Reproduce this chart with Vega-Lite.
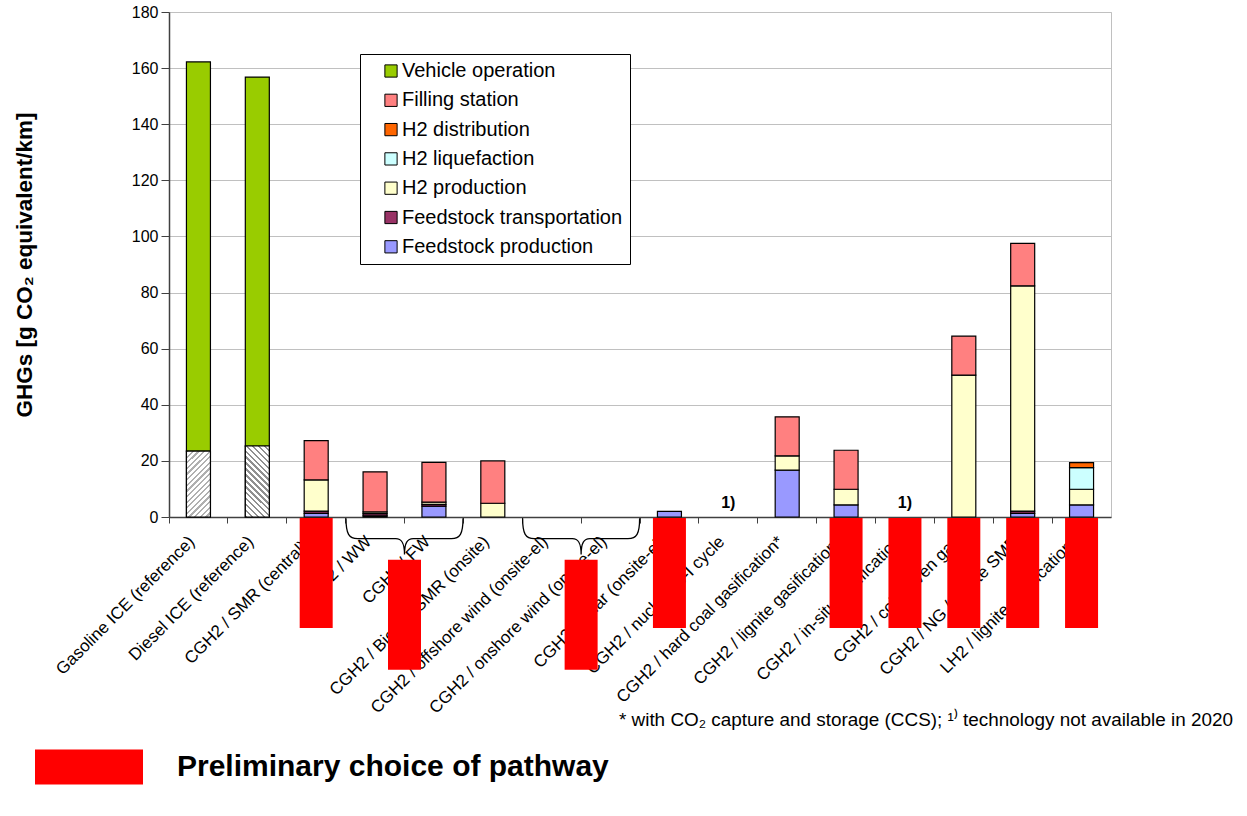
{
  "$schema": "https://vega.github.io/schema/vega-lite/v6.json",
  "width": 942,
  "height": 505,
  "autosize": {"type": "none"},
  "padding": {"left": 169, "top": 12, "right": 136, "bottom": 299},
  "background": "white",
  "config": {
    "font": "Liberation Sans",
    "view": {"stroke": "#c0c0c0"}
  },
  "title": {
    "text": "* with CO₂ capture and storage (CCS); ¹⁾ technology not available in 2020",
    "orient": "bottom",
    "anchor": "end",
    "fontSize": 18.9,
    "fontWeight": "normal",
    "color": "black",
    "dx": 122,
    "dy": -82,
    "offset": 8
  },
  "datasets": {
    "components": [
      {"component": "Fuel supply (well-to-tank)", "stackRank": 0},
      {"component": "Feedstock production", "stackRank": 1},
      {"component": "Feedstock transportation", "stackRank": 2},
      {"component": "H2 production", "stackRank": 3},
      {"component": "H2 liquefaction", "stackRank": 4},
      {"component": "H2 distribution", "stackRank": 5},
      {"component": "Filling station", "stackRank": 6},
      {"component": "Vehicle operation", "stackRank": 7}
    ]
  },
  "data": {
    "values": [
      {"pathway": "Gasoline ICE (reference)", "component": "Fuel supply (well-to-tank)", "value": 23.5},
      {"pathway": "Gasoline ICE (reference)", "component": "Vehicle operation", "value": 138.7},
      {"pathway": "Diesel ICE (reference)", "component": "Fuel supply (well-to-tank)", "value": 25.3},
      {"pathway": "Diesel ICE (reference)", "component": "Vehicle operation", "value": 131.5},
      {"pathway": "CGH2 / SMR (central)*", "component": "Feedstock production", "value": 1.3},
      {"pathway": "CGH2 / SMR (central)*", "component": "Feedstock transportation", "value": 0.8},
      {"pathway": "CGH2 / SMR (central)*", "component": "H2 production", "value": 11.1},
      {"pathway": "CGH2 / SMR (central)*", "component": "Filling station", "value": 14.0},
      {"pathway": "CGH2 / WW", "component": "Feedstock production", "value": 0.4},
      {"pathway": "CGH2 / WW", "component": "Feedstock transportation", "value": 0.8},
      {"pathway": "CGH2 / WW", "component": "H2 production", "value": 0.6},
      {"pathway": "CGH2 / WW", "component": "Filling station", "value": 14.3},
      {"pathway": "CGH2 / FW", "component": "Feedstock production", "value": 3.9},
      {"pathway": "CGH2 / FW", "component": "Feedstock transportation", "value": 0.6},
      {"pathway": "CGH2 / FW", "component": "H2 production", "value": 0.8},
      {"pathway": "CGH2 / FW", "component": "Filling station", "value": 14.2},
      {"pathway": "CGH2 / Biogas SMR (onsite)", "component": "H2 production", "value": 4.9},
      {"pathway": "CGH2 / Biogas SMR (onsite)", "component": "Filling station", "value": 15.1},
      {"pathway": "CGH2 / solar (onsite-el)", "component": "Feedstock production", "value": 2.0},
      {"pathway": "CGH2 / hard coal gasification*", "component": "Feedstock production", "value": 16.7},
      {"pathway": "CGH2 / hard coal gasification*", "component": "H2 production", "value": 5.1},
      {"pathway": "CGH2 / hard coal gasification*", "component": "Filling station", "value": 13.9},
      {"pathway": "CGH2 / lignite gasification*", "component": "Feedstock production", "value": 4.3},
      {"pathway": "CGH2 / lignite gasification*", "component": "H2 production", "value": 5.6},
      {"pathway": "CGH2 / lignite gasification*", "component": "Filling station", "value": 13.9},
      {"pathway": "CGH2 / coke oven gas", "component": "H2 production", "value": 50.6},
      {"pathway": "CGH2 / coke oven gas", "component": "Filling station", "value": 13.9},
      {"pathway": "CGH2 / NG / onsite SMR", "component": "Feedstock production", "value": 1.3},
      {"pathway": "CGH2 / NG / onsite SMR", "component": "Feedstock transportation", "value": 0.8},
      {"pathway": "CGH2 / NG / onsite SMR", "component": "H2 production", "value": 80.3},
      {"pathway": "CGH2 / NG / onsite SMR", "component": "Filling station", "value": 15.1},
      {"pathway": "LH2 / lignite gasification*", "component": "Feedstock production", "value": 4.3},
      {"pathway": "LH2 / lignite gasification*", "component": "H2 production", "value": 5.6},
      {"pathway": "LH2 / lignite gasification*", "component": "H2 liquefaction", "value": 7.7},
      {"pathway": "LH2 / lignite gasification*", "component": "H2 distribution", "value": 1.8}
    ]
  },
  "layer": [
    {
      "transform": [{"lookup": "component", "from": {"data": {"name": "components"}, "key": "component", "fields": ["stackRank"]}}],
      "mark": {"type": "bar", "width": 24, "stroke": "black", "strokeWidth": 1.2},
      "encoding": {
        "x": {
          "field": "pathway", "type": "nominal",
          "scale": {"domain": ["Gasoline ICE (reference)", "Diesel ICE (reference)", "CGH2 / SMR (central)*", "CGH2 / WW", "CGH2 / FW", "CGH2 / Biogas SMR (onsite)", "CGH2 / offshore wind (onsite-el)", "CGH2 / onshore wind (onsite-el)", "CGH2 / solar (onsite-el)", "CGH2 / nuclear S-I cycle", "CGH2 / hard coal gasification*", "CGH2 / lignite gasification*", "CGH2 / in-situ gasification", "CGH2 / coke oven gas", "CGH2 / NG / onsite SMR", "LH2 / lignite gasification*"], "paddingInner": 0, "paddingOuter": 0},
          "axis": {"title": null, "bandPosition": 0, "labelOffset": -12, "labelAngle": -45, "labelAlign": "right", "labelBaseline": "top", "labelFontSize": 17, "labelColor": "black", "labelPadding": 10, "labelOverlap": false, "labelBound": false, "labelLimit": 400, "tickSize": 6, "tickColor": "#404040", "domainColor": "#404040", "domainWidth": 1.5, "grid": false}
        },
        "y": {
          "field": "value", "type": "quantitative", "stack": "zero",
          "scale": {"domain": [0, 180], "nice": false},
          "axis": {"title": "GHGs [g CO₂ equivalent/km]", "titleFontSize": 22.5, "titleFontWeight": "bold", "titleColor": "black", "titlePadding": 95, "values": [0, 20, 40, 60, 80, 100, 120, 140, 160, 180], "labelFontSize": 16, "labelColor": "black", "labelPadding": 3, "tickSize": 8, "tickColor": "#404040", "domainColor": "#404040", "domainWidth": 1.5, "grid": true, "gridColor": "#c0c0c0"}
        },
        "order": {"field": "stackRank", "type": "quantitative", "sort": "ascending"},
        "color": {
          "field": "component", "type": "nominal",
          "scale": {
            "domain": ["Fuel supply (well-to-tank)", "Feedstock production", "Feedstock transportation", "H2 production", "H2 liquefaction", "H2 distribution", "Filling station", "Vehicle operation"],
            "range": ["#ffffff", "#9999ff", "#993366", "#ffffcc", "#ccffff", "#ff6600", "#ff8080", "#99cc00"]
          },
          "legend": {
            "orient": "none", "legendX": 191, "legendY": 42, "title": null,
            "values": ["Vehicle operation", "Filling station", "H2 distribution", "H2 liquefaction", "H2 production", "Feedstock transportation", "Feedstock production"],
            "labelFontSize": 20, "labelColor": "black", "labelLimit": 400,
            "symbolType": "square", "symbolSize": 150, "symbolStrokeColor": "black", "symbolStrokeWidth": 1,
            "rowPadding": 9.3, "padding": 7, "symbolOffset": 14, "labelOffset": 1,
            "strokeColor": "black", "fillColor": "white"
          }
        }
      }
    },
    {
      "transform": [{"filter": "datum.component == 'Fuel supply (well-to-tank)' && datum.pathway == 'Gasoline ICE (reference)'"}],
      "mark": {"type": "bar", "width": 24, "stroke": "black", "strokeWidth": 1.2,
        "fill": {"gradient": "linear", "x1": 0, "y1": 0, "x2": 0.438, "y2": 1.2045, "stops": [
          {"offset": 0, "color": "#b0b0b0"}, {"offset": 0.025, "color": "#b0b0b0"}, {"offset": 0.025, "color": "#ffffff"}, {"offset": 0.0625, "color": "#ffffff"},
          {"offset": 0.0625, "color": "#b0b0b0"}, {"offset": 0.0875, "color": "#b0b0b0"}, {"offset": 0.0875, "color": "#ffffff"}, {"offset": 0.125, "color": "#ffffff"},
          {"offset": 0.125, "color": "#b0b0b0"}, {"offset": 0.15, "color": "#b0b0b0"}, {"offset": 0.15, "color": "#ffffff"}, {"offset": 0.1875, "color": "#ffffff"},
          {"offset": 0.1875, "color": "#b0b0b0"}, {"offset": 0.2125, "color": "#b0b0b0"}, {"offset": 0.2125, "color": "#ffffff"}, {"offset": 0.25, "color": "#ffffff"},
          {"offset": 0.25, "color": "#b0b0b0"}, {"offset": 0.275, "color": "#b0b0b0"}, {"offset": 0.275, "color": "#ffffff"}, {"offset": 0.3125, "color": "#ffffff"},
          {"offset": 0.3125, "color": "#b0b0b0"}, {"offset": 0.3375, "color": "#b0b0b0"}, {"offset": 0.3375, "color": "#ffffff"}, {"offset": 0.375, "color": "#ffffff"},
          {"offset": 0.375, "color": "#b0b0b0"}, {"offset": 0.4, "color": "#b0b0b0"}, {"offset": 0.4, "color": "#ffffff"}, {"offset": 0.4375, "color": "#ffffff"},
          {"offset": 0.4375, "color": "#b0b0b0"}, {"offset": 0.4625, "color": "#b0b0b0"}, {"offset": 0.4625, "color": "#ffffff"}, {"offset": 0.5, "color": "#ffffff"},
          {"offset": 0.5, "color": "#b0b0b0"}, {"offset": 0.525, "color": "#b0b0b0"}, {"offset": 0.525, "color": "#ffffff"}, {"offset": 0.5625, "color": "#ffffff"},
          {"offset": 0.5625, "color": "#b0b0b0"}, {"offset": 0.5875, "color": "#b0b0b0"}, {"offset": 0.5875, "color": "#ffffff"}, {"offset": 0.625, "color": "#ffffff"},
          {"offset": 0.625, "color": "#b0b0b0"}, {"offset": 0.65, "color": "#b0b0b0"}, {"offset": 0.65, "color": "#ffffff"}, {"offset": 0.6875, "color": "#ffffff"},
          {"offset": 0.6875, "color": "#b0b0b0"}, {"offset": 0.7125, "color": "#b0b0b0"}, {"offset": 0.7125, "color": "#ffffff"}, {"offset": 0.75, "color": "#ffffff"},
          {"offset": 0.75, "color": "#b0b0b0"}, {"offset": 0.775, "color": "#b0b0b0"}, {"offset": 0.775, "color": "#ffffff"}, {"offset": 0.8125, "color": "#ffffff"},
          {"offset": 0.8125, "color": "#b0b0b0"}, {"offset": 0.8375, "color": "#b0b0b0"}, {"offset": 0.8375, "color": "#ffffff"}, {"offset": 0.875, "color": "#ffffff"},
          {"offset": 0.875, "color": "#b0b0b0"}, {"offset": 0.9, "color": "#b0b0b0"}, {"offset": 0.9, "color": "#ffffff"}, {"offset": 0.9375, "color": "#ffffff"},
          {"offset": 0.9375, "color": "#b0b0b0"}, {"offset": 0.9625, "color": "#b0b0b0"}, {"offset": 0.9625, "color": "#ffffff"}, {"offset": 1, "color": "#ffffff"}
        ]}},
      "encoding": {
        "x": {"field": "pathway", "type": "nominal", "scale": {"domain": ["Gasoline ICE (reference)", "Diesel ICE (reference)", "CGH2 / SMR (central)*", "CGH2 / WW", "CGH2 / FW", "CGH2 / Biogas SMR (onsite)", "CGH2 / offshore wind (onsite-el)", "CGH2 / onshore wind (onsite-el)", "CGH2 / solar (onsite-el)", "CGH2 / nuclear S-I cycle", "CGH2 / hard coal gasification*", "CGH2 / lignite gasification*", "CGH2 / in-situ gasification", "CGH2 / coke oven gas", "CGH2 / NG / onsite SMR", "LH2 / lignite gasification*"], "paddingInner": 0, "paddingOuter": 0}},
        "y": {"field": "value", "type": "quantitative"}
      }
    },
    {
      "transform": [{"filter": "datum.component == 'Fuel supply (well-to-tank)' && datum.pathway == 'Diesel ICE (reference)'"}],
      "mark": {"type": "bar", "width": 24, "stroke": "black", "strokeWidth": 1.2,
        "fill": {"gradient": "linear", "x1": 0, "y1": 1, "x2": 0.406, "y2": -0.201, "stops": [
          {"offset": 0, "color": "#909090"}, {"offset": 0.025, "color": "#909090"}, {"offset": 0.025, "color": "#ffffff"}, {"offset": 0.0625, "color": "#ffffff"},
          {"offset": 0.0625, "color": "#909090"}, {"offset": 0.0875, "color": "#909090"}, {"offset": 0.0875, "color": "#ffffff"}, {"offset": 0.125, "color": "#ffffff"},
          {"offset": 0.125, "color": "#909090"}, {"offset": 0.15, "color": "#909090"}, {"offset": 0.15, "color": "#ffffff"}, {"offset": 0.1875, "color": "#ffffff"},
          {"offset": 0.1875, "color": "#909090"}, {"offset": 0.2125, "color": "#909090"}, {"offset": 0.2125, "color": "#ffffff"}, {"offset": 0.25, "color": "#ffffff"},
          {"offset": 0.25, "color": "#909090"}, {"offset": 0.275, "color": "#909090"}, {"offset": 0.275, "color": "#ffffff"}, {"offset": 0.3125, "color": "#ffffff"},
          {"offset": 0.3125, "color": "#909090"}, {"offset": 0.3375, "color": "#909090"}, {"offset": 0.3375, "color": "#ffffff"}, {"offset": 0.375, "color": "#ffffff"},
          {"offset": 0.375, "color": "#909090"}, {"offset": 0.4, "color": "#909090"}, {"offset": 0.4, "color": "#ffffff"}, {"offset": 0.4375, "color": "#ffffff"},
          {"offset": 0.4375, "color": "#909090"}, {"offset": 0.4625, "color": "#909090"}, {"offset": 0.4625, "color": "#ffffff"}, {"offset": 0.5, "color": "#ffffff"},
          {"offset": 0.5, "color": "#909090"}, {"offset": 0.525, "color": "#909090"}, {"offset": 0.525, "color": "#ffffff"}, {"offset": 0.5625, "color": "#ffffff"},
          {"offset": 0.5625, "color": "#909090"}, {"offset": 0.5875, "color": "#909090"}, {"offset": 0.5875, "color": "#ffffff"}, {"offset": 0.625, "color": "#ffffff"},
          {"offset": 0.625, "color": "#909090"}, {"offset": 0.65, "color": "#909090"}, {"offset": 0.65, "color": "#ffffff"}, {"offset": 0.6875, "color": "#ffffff"},
          {"offset": 0.6875, "color": "#909090"}, {"offset": 0.7125, "color": "#909090"}, {"offset": 0.7125, "color": "#ffffff"}, {"offset": 0.75, "color": "#ffffff"},
          {"offset": 0.75, "color": "#909090"}, {"offset": 0.775, "color": "#909090"}, {"offset": 0.775, "color": "#ffffff"}, {"offset": 0.8125, "color": "#ffffff"},
          {"offset": 0.8125, "color": "#909090"}, {"offset": 0.8375, "color": "#909090"}, {"offset": 0.8375, "color": "#ffffff"}, {"offset": 0.875, "color": "#ffffff"},
          {"offset": 0.875, "color": "#909090"}, {"offset": 0.9, "color": "#909090"}, {"offset": 0.9, "color": "#ffffff"}, {"offset": 0.9375, "color": "#ffffff"},
          {"offset": 0.9375, "color": "#909090"}, {"offset": 0.9625, "color": "#909090"}, {"offset": 0.9625, "color": "#ffffff"}, {"offset": 1, "color": "#ffffff"}
        ]}},
      "encoding": {
        "x": {"field": "pathway", "type": "nominal", "scale": {"domain": ["Gasoline ICE (reference)", "Diesel ICE (reference)", "CGH2 / SMR (central)*", "CGH2 / WW", "CGH2 / FW", "CGH2 / Biogas SMR (onsite)", "CGH2 / offshore wind (onsite-el)", "CGH2 / onshore wind (onsite-el)", "CGH2 / solar (onsite-el)", "CGH2 / nuclear S-I cycle", "CGH2 / hard coal gasification*", "CGH2 / lignite gasification*", "CGH2 / in-situ gasification", "CGH2 / coke oven gas", "CGH2 / NG / onsite SMR", "LH2 / lignite gasification*"], "paddingInner": 0, "paddingOuter": 0}},
        "y": {"field": "value", "type": "quantitative"}
      }
    },
    {
      "data": {"values": [
        {"pathway": "CGH2 / nuclear S-I cycle", "note": "1)"},
        {"pathway": "CGH2 / in-situ gasification", "note": "1)"}
      ]},
      "mark": {"type": "text", "fontSize": 16, "fontWeight": "bold", "color": "black"},
      "encoding": {
        "x": {"field": "pathway", "type": "nominal", "scale": {"domain": ["Gasoline ICE (reference)", "Diesel ICE (reference)", "CGH2 / SMR (central)*", "CGH2 / WW", "CGH2 / FW", "CGH2 / Biogas SMR (onsite)", "CGH2 / offshore wind (onsite-el)", "CGH2 / onshore wind (onsite-el)", "CGH2 / solar (onsite-el)", "CGH2 / nuclear S-I cycle", "CGH2 / hard coal gasification*", "CGH2 / lignite gasification*", "CGH2 / in-situ gasification", "CGH2 / coke oven gas", "CGH2 / NG / onsite SMR", "LH2 / lignite gasification*"], "paddingInner": 0, "paddingOuter": 0}},
        "y": {"datum": 5, "type": "quantitative"},
        "text": {"field": "note"}
      }
    },
    {
      "data": {"values": [
        {"pathway": "CGH2 / FW"},
        {"pathway": "CGH2 / onshore wind (onsite-el)"}
      ]},
      "mark": {"type": "point", "shape": "M -1 -0.32 C -1 -0.05 -0.95 0.03 -0.8 0.03 L -0.15 0.03 C -0.05 0.03 0 0.1 0 0.3 C 0 0.1 0.05 0.03 0.15 0.03 L 0.8 0.03 C 0.95 0.03 1 -0.05 1 -0.32", "size": 13689, "filled": false, "stroke": "black", "strokeWidth": 1.3, "opacity": 1},
      "encoding": {
        "x": {"field": "pathway", "type": "nominal", "bandPosition": 0, "scale": {"domain": ["Gasoline ICE (reference)", "Diesel ICE (reference)", "CGH2 / SMR (central)*", "CGH2 / WW", "CGH2 / FW", "CGH2 / Biogas SMR (onsite)", "CGH2 / offshore wind (onsite-el)", "CGH2 / onshore wind (onsite-el)", "CGH2 / solar (onsite-el)", "CGH2 / nuclear S-I cycle", "CGH2 / hard coal gasification*", "CGH2 / lignite gasification*", "CGH2 / in-situ gasification", "CGH2 / coke oven gas", "CGH2 / NG / onsite SMR", "LH2 / lignite gasification*"], "paddingInner": 0, "paddingOuter": 0}},
        "y": {"datum": -7.1, "type": "quantitative"}
      }
    },
    {
      "data": {"values": [
        {"pathway": "CGH2 / SMR (central)*", "choice": "Preliminary choice of pathway"},
        {"pathway": "CGH2 / solar (onsite-el)", "choice": "Preliminary choice of pathway"},
        {"pathway": "CGH2 / lignite gasification*", "choice": "Preliminary choice of pathway"},
        {"pathway": "CGH2 / in-situ gasification", "choice": "Preliminary choice of pathway"},
        {"pathway": "CGH2 / coke oven gas", "choice": "Preliminary choice of pathway"},
        {"pathway": "CGH2 / NG / onsite SMR", "choice": "Preliminary choice of pathway"},
        {"pathway": "LH2 / lignite gasification*", "choice": "Preliminary choice of pathway"}
      ]},
      "mark": {"type": "point", "shape": "M -0.3 -1 H 0.3 V 1 H -0.3 Z", "size": 12100, "filled": true, "strokeWidth": 0, "opacity": 1},
      "encoding": {
        "x": {"field": "pathway", "type": "nominal", "scale": {"domain": ["Gasoline ICE (reference)", "Diesel ICE (reference)", "CGH2 / SMR (central)*", "CGH2 / WW", "CGH2 / FW", "CGH2 / Biogas SMR (onsite)", "CGH2 / offshore wind (onsite-el)", "CGH2 / onshore wind (onsite-el)", "CGH2 / solar (onsite-el)", "CGH2 / nuclear S-I cycle", "CGH2 / hard coal gasification*", "CGH2 / lignite gasification*", "CGH2 / in-situ gasification", "CGH2 / coke oven gas", "CGH2 / NG / onsite SMR", "LH2 / lignite gasification*"], "paddingInner": 0, "paddingOuter": 0}},
        "y": {"datum": -20, "type": "quantitative"},
        "fill": {
          "field": "choice", "type": "nominal",
          "scale": {"domain": ["Preliminary choice of pathway"], "range": ["#ff0000"]},
          "legend": {"orient": "none", "legendX": -134, "legendY": 701, "title": null, "symbolType": "M -1 -0.324 H 1 V 0.324 H -1 Z", "symbolSize": 11664, "symbolStrokeWidth": 0, "labelFontSize": 30, "labelFontWeight": "bold", "labelColor": "black", "labelOffset": 34, "labelLimit": 700, "padding": 0}
        }
      }
    },
    {
      "data": {"values": [
        {"pathway": "CGH2 / FW", "choice": "Preliminary choice of pathway"},
        {"pathway": "CGH2 / onshore wind (onsite-el)", "choice": "Preliminary choice of pathway"}
      ]},
      "mark": {"type": "point", "shape": "M -0.3 -1 H 0.3 V 1 H -0.3 Z", "size": 12100, "filled": true, "strokeWidth": 0, "opacity": 1},
      "encoding": {
        "x": {"field": "pathway", "type": "nominal", "bandPosition": 0, "scale": {"domain": ["Gasoline ICE (reference)", "Diesel ICE (reference)", "CGH2 / SMR (central)*", "CGH2 / WW", "CGH2 / FW", "CGH2 / Biogas SMR (onsite)", "CGH2 / offshore wind (onsite-el)", "CGH2 / onshore wind (onsite-el)", "CGH2 / solar (onsite-el)", "CGH2 / nuclear S-I cycle", "CGH2 / hard coal gasification*", "CGH2 / lignite gasification*", "CGH2 / in-situ gasification", "CGH2 / coke oven gas", "CGH2 / NG / onsite SMR", "LH2 / lignite gasification*"], "paddingInner": 0, "paddingOuter": 0}},
        "y": {"datum": -34.8, "type": "quantitative"},
        "fill": {"field": "choice", "type": "nominal"}
      }
    }
  ]
}
